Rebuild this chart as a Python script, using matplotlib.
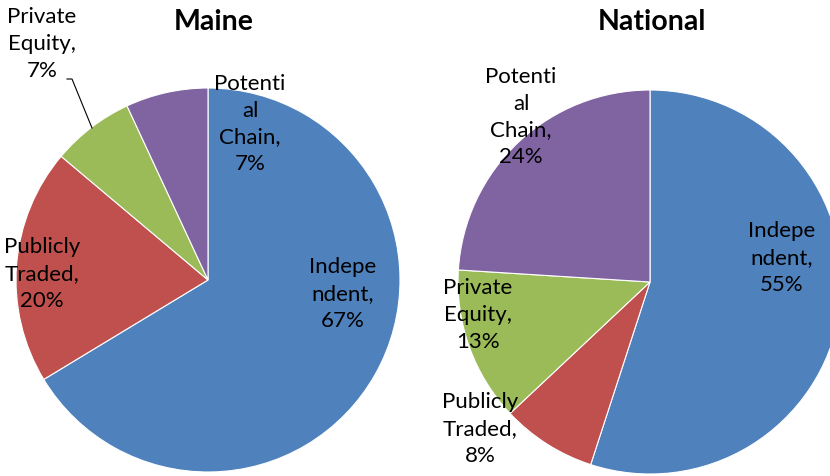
import matplotlib.pyplot as plt

# ownership shares, clockwise from 12 o'clock
categories = ["Independent", "Publicly Traded", "Private Equity", "Potential Chain"]
maine = [67, 20, 7, 7]
national = [55, 8, 13, 24]

colors = ["#4F81BD", "#C0504D", "#9BBB59", "#8064A2"]

plt.rcParams["font.family"] = ["Lato", "DejaVu Sans"]

W, H = 830, 476
fig = plt.figure(figsize=(W / 100, H / 100), dpi=100)
ax = fig.add_axes([0, 0, 1, 1])

wp = dict(edgecolor="white", linewidth=0.8)
ax.pie(maine, colors=colors, startangle=90, counterclock=False,
       center=(208, H - 280), radius=192, wedgeprops=wp, frame=True)
ax.pie(national, colors=colors, startangle=90, counterclock=False,
       center=(650, H - 282), radius=192, wedgeprops=wp, frame=True)
ax.set_xlim(0, W)
ax.set_ylim(0, H)
ax.set_aspect("equal")
ax.axis("off")

ax.text(214, H - 22, "Maine", ha="center", va="center", fontsize=20.5, fontweight="bold")
ax.text(652, H - 22, "National", ha="center", va="center", fontsize=20.5, fontweight="bold")

lab = dict(ha="center", va="center", fontsize=16, linespacing=1.42)


def label(x, y, name, val):
    ax.text(x, H - y, f"{name},\n{val}%", **lab)


label(343, 294, "Indepe\nndent", maine[0])
label(42, 274, "Publicly\nTraded", maine[1])
label(42, 44, "Private\nEquity", maine[2])
label(250, 124, "Potenti\nal\nChain", maine[3])
ax.plot([67, 72, 92], [H - 79, H - 79, H - 128], color="black", lw=0.8)

label(782, 258, "Indepe\nndent", national[0])
label(480, 429, "Publicly\nTraded", national[1])
label(478, 315, "Private\nEquity", national[2])
label(521, 117, "Potenti\nal\nChain", national[3])

fig.savefig("out.png", dpi=100)
